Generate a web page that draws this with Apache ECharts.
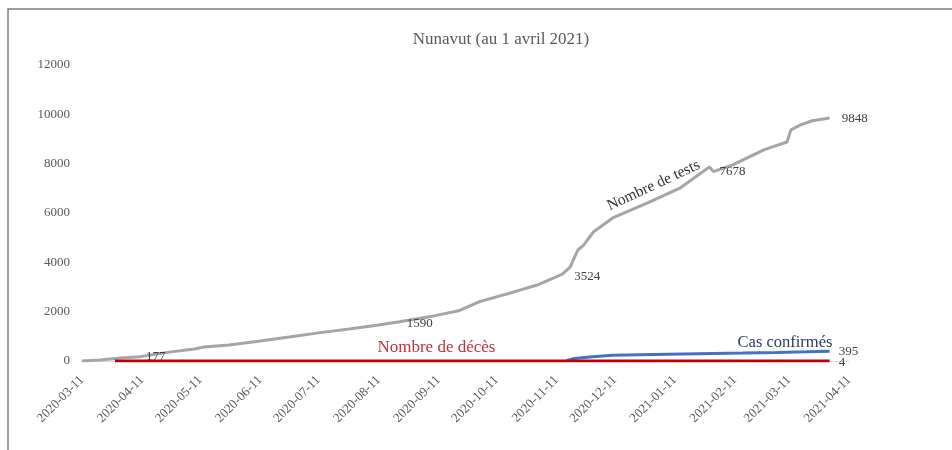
<!DOCTYPE html>
<html>
<head>
<meta charset="utf-8">
<script src="https://cdn.jsdelivr.net/npm/echarts@6/dist/echarts.min.js"></script>
<style>
html,body{margin:0;padding:0;background:#fff;}
#chart{width:952px;height:450px;}
</style>
</head>
<body>
<div id="chart"></div>
<script>
// ---- data ----
const titleText = 'Nunavut (au 1 avril 2021)';
const startDate = '2020-03-11';
const endDate = '2021-04-11';
const yTicks = [0, 2000, 4000, 6000, 8000, 10000, 12000];

const testDates = ['2020-03-11','2020-03-20','2020-03-31','2020-04-10','2020-04-25','2020-05-08','2020-05-13','2020-05-26','2020-06-11','2020-06-26','2020-07-11','2020-07-27','2020-08-11','2020-08-22','2020-09-07','2020-09-22','2020-10-02','2020-10-11','2020-10-20','2020-11-01','2020-11-14','2020-11-18','2020-11-22','2020-11-25','2020-11-30','2020-12-10','2020-12-28','2021-01-14','2021-01-29','2021-01-31','2021-02-10','2021-02-26','2021-03-10','2021-03-12','2021-03-17','2021-03-23','2021-04-01'];
const testValues = [0,40,120,177,360,490,570,650,810,970,1140,1300,1460,1590,1800,2050,2400,2600,2800,3080,3524,3810,4500,4700,5230,5800,6410,7020,7870,7678,7950,8560,8880,9370,9570,9740,9848];
const testLabeled = [177,1590,3524,7678,9848];

const caseDates = ['2020-11-16','2020-11-20','2020-11-28','2020-12-10','2020-12-31','2021-01-31','2021-02-15','2021-03-05','2021-03-20','2021-04-01'];
const caseValues = [0,100,160,230,266,305,320,345,370,395];

const deathDates = ['2020-03-28','2020-12-22','2021-03-20','2021-04-01'];
const deathValues = [0,1,3,4];

const seriesNames = ['Nombre de tests','Cas confirmés','Nombre de décès'];

// ---- build category axis (one entry per day) ----
const categories = [];
{
  const d = new Date(startDate + 'T00:00:00Z');
  const e = new Date(endDate + 'T00:00:00Z');
  while (d <= e) {
    categories.push(d.toISOString().slice(0,10));
    d.setUTCDate(d.getUTCDate() + 1);
  }
}

const FONT = '"Liberation Serif", "Times New Roman", serif';

const dataLabelStyle = { position: 'right', distance: 6, color: '#404040', fontSize: 13, fontFamily: FONT };

function pairs(dates, values, labeled) {
  return dates.map((dt, i) => {
    const item = { value: [dt, values[i]] };
    if (labeled && labeled.indexOf(values[i]) >= 0) {
      item.label = Object.assign({ show: true }, dataLabelStyle);
    }
    return item;
  });
}

const testsData = pairs(testDates, testValues, testLabeled);
testsData[testsData.length - 1].label = Object.assign({ show: true }, dataLabelStyle, { distance: 12 });
testsData[testValues.indexOf(3524)].label = Object.assign({ show: true }, dataLabelStyle, { distance: 12, offset: [0, 3] });
testsData[testValues.indexOf(1590)].label = Object.assign({ show: true }, dataLabelStyle, { distance: 7, offset: [0, 2] });

const casesData = pairs(caseDates, caseValues);
casesData[casesData.length - 1].label = Object.assign({ show: true }, dataLabelStyle, { distance: 9, offset: [0, 0] });

const deathsData = pairs(deathDates, deathValues);
deathsData[deathsData.length - 1].label = Object.assign({ show: true }, dataLabelStyle, { distance: 9, offset: [0, 2] });

const chart = echarts.init(document.getElementById('chart'), null, { renderer: 'canvas' });

const lineCommon = {
  type: 'line',
  symbol: 'circle',
  symbolSize: 0,
  showSymbol: true,
  showAllSymbol: true,
  label: { show: false },
  emphasis: { disabled: true }
};

chart.setOption({
  backgroundColor: '#ffffff',
  animation: false,
  textStyle: { fontFamily: FONT },
  title: {
    text: titleText,
    left: 496,
    textAlign: 'center',
    top: 26,
    textStyle: { fontFamily: FONT, fontSize: 17, fontWeight: 'normal', color: '#595959' }
  },
  graphic: [{
    type: 'rect',
    shape: { x: 8, y: 9, width: 980, height: 480 },
    style: { fill: 'none', stroke: '#7f7f7f', lineWidth: 1.5 },
    silent: true,
    z: -1
  }],
  grid: { left: 82, right: 103, top: 65, bottom: 89, containLabel: false, outerBoundsMode: 'none' },
  xAxis: {
    type: 'category',
    data: categories,
    boundaryGap: false,
    axisLine: { show: true, lineStyle: { color: '#d9d9d9', width: 1 } },
    axisTick: { show: false },
    splitLine: { show: false },
    axisLabel: {
      interval: (idx, val) => val.slice(8) === '11',
      rotate: 45,
      margin: 17,
      fontSize: 13,
      fontFamily: FONT,
      color: '#595959'
    }
  },
  yAxis: {
    type: 'value',
    min: yTicks[0],
    max: yTicks[yTicks.length - 1],
    interval: yTicks[1] - yTicks[0],
    axisLine: { show: false },
    axisTick: { show: false },
    splitLine: { show: false },
    axisLabel: { margin: 12, fontSize: 13, fontFamily: FONT, color: '#595959', formatter: v => String(v) }
  },
  series: [
    Object.assign({}, lineCommon, {
      name: seriesNames[0],
      data: testsData,
      lineStyle: { color: '#a5a5a5', width: 3 },
      itemStyle: { color: '#a5a5a5' },
      z: 2,
      markPoint: {
        symbol: 'circle', symbolSize: 0,
        data: [{
          coord: ['2020-12-29', 6410],
          label: { show: true, formatter: seriesNames[0], position: 'inside', offset: [11, -14], rotate: 25,
                   color: '#333333', fontSize: 15.5, fontFamily: FONT }
        }]
      }
    }),
    Object.assign({}, lineCommon, {
      name: seriesNames[1],
      data: casesData,
      lineStyle: { color: '#4472c4', width: 3 },
      itemStyle: { color: '#4472c4' },
      z: 3,
      markPoint: {
        symbol: 'circle', symbolSize: 0,
        data: [{
          coord: ['2021-03-10', 345],
          label: { show: true, formatter: seriesNames[1], position: 'inside', offset: [-2, -10],
                   color: '#2e3b5c', fontSize: 16.5, fontFamily: FONT }
        }]
      }
    }),
    Object.assign({}, lineCommon, {
      name: seriesNames[2],
      data: deathsData,
      lineStyle: { color: '#c00000', width: 3 },
      itemStyle: { color: '#c00000' },
      z: 4,
      markPoint: {
        symbol: 'circle', symbolSize: 0,
        data: [{
          coord: ['2020-09-10', 0],
          label: { show: true, formatter: seriesNames[2], position: 'inside', offset: [0, -13],
                   color: '#c0303a', fontSize: 17, fontFamily: FONT }
        }]
      }
    })
  ]
});
</script>
</body>
</html>
